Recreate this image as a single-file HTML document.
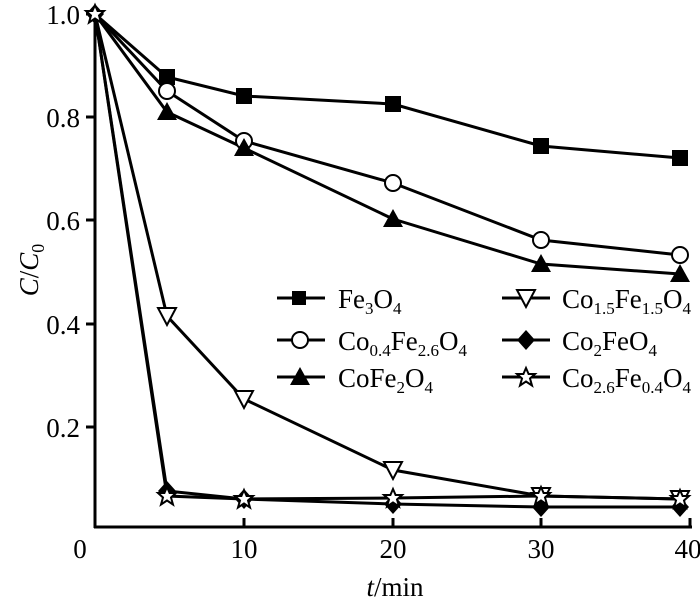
<!DOCTYPE html>
<html><head><meta charset="utf-8"><style>
html,body{margin:0;padding:0;background:#fff;}
svg{display:block;font-family:"Liberation Serif",serif;}
</style></head><body>
<svg width="700" height="601" viewBox="0 0 700 601" xmlns="http://www.w3.org/2000/svg">
<defs>
<g id="sq"><rect x="-8" y="-8" width="16" height="16" fill="#000"/></g>
<g id="ci"><circle r="8" fill="#fff" stroke="#000" stroke-width="2"/></g>
<g id="tr"><polygon points="0,-10 10,8 -10,8" fill="#000"/></g>
<g id="dt"><polygon points="-9,-8 9,-8 0,9" fill="#fff" stroke="#000" stroke-width="2"/></g>
<g id="di"><polygon points="0,-10 9,0 0,10 -9,0" fill="#000"/></g>
<g id="st"><polygon points="0,-9 2.6,-3 9,-3 4,1.5 6,8.5 0,4.5 -6,8.5 -4,1.5 -9,-3 -2.6,-3" fill="#fff" stroke="#000" stroke-width="2"/></g>
</defs>
<g stroke="#000" stroke-width="3" fill="none">
<line x1="95" y1="8" x2="95" y2="528"/>
<line x1="94" y1="527" x2="692" y2="527"/>
<line x1="86" y1="14" x2="95" y2="14"/>
<line x1="86" y1="117" x2="95" y2="117"/>
<line x1="86" y1="220" x2="95" y2="220"/>
<line x1="86" y1="324" x2="95" y2="324"/>
<line x1="86" y1="427" x2="95" y2="427"/>
<line x1="244" y1="518" x2="244" y2="527"/>
<line x1="393" y1="518" x2="393" y2="527"/>
<line x1="541" y1="518" x2="541" y2="527"/>
<line x1="690" y1="518" x2="690" y2="527"/>
</g>
<g font-size="27" text-anchor="end">
<text x="80" y="24">1.0</text><text x="80" y="127">0.8</text><text x="80" y="230">0.6</text><text x="80" y="334">0.4</text><text x="80" y="437">0.2</text>
</g>
<g font-size="27" text-anchor="middle">
<text x="80" y="558">0</text><text x="244" y="558">10</text><text x="393" y="558">20</text><text x="541" y="558">30</text><text x="688" y="558">40</text>
<text x="395" y="596"><tspan font-style="italic">t</tspan>/min</text>
</g>
<text font-size="27" transform="translate(38,270) rotate(-90)" text-anchor="middle"><tspan font-style="italic">C</tspan>/<tspan font-style="italic">C</tspan><tspan font-size="18" dy="6">0</tspan></text>
<g stroke="#000" stroke-width="3" fill="none">
<polyline points="95,14 167,77 244,96 393,104 541,146 680,158"/>
<polyline points="95,14 167,91 244,141 393,183 541,240 680,255"/>
<polyline points="95,14 167,112 244,148 393,219 541,264 680,274"/>
<polyline points="95,14 167,316 244,399 393,470 541,496 680,499"/>
<polyline points="95,14 167,491 244,499 393,504 541,507 680,507"/>
<polyline points="95,14 167,496 244,499 393,498 541,496 680,499"/>
</g>
<g>
<use href="#sq" x="167" y="77"/><use href="#sq" x="244" y="96"/><use href="#sq" x="393" y="104"/><use href="#sq" x="541" y="146"/><use href="#sq" x="680" y="158"/>
<use href="#ci" x="167" y="91"/><use href="#ci" x="244" y="141"/><use href="#ci" x="393" y="183"/><use href="#ci" x="541" y="240"/><use href="#ci" x="680" y="255"/>
<use href="#tr" x="167" y="112"/><use href="#tr" x="244" y="148"/><use href="#tr" x="393" y="219"/><use href="#tr" x="541" y="264"/><use href="#tr" x="680" y="274"/>
<use href="#dt" x="167" y="316"/><use href="#dt" x="244" y="399"/><use href="#dt" x="393" y="470"/><use href="#dt" x="541" y="496"/><use href="#dt" x="680" y="499"/>
<use href="#di" x="167" y="491"/><use href="#di" x="244" y="499"/><use href="#di" x="393" y="504"/><use href="#di" x="541" y="507"/><use href="#di" x="680" y="507"/>
<use href="#st" x="167" y="496"/><use href="#st" x="244" y="499"/><use href="#st" x="393" y="498"/><use href="#st" x="541" y="496"/><use href="#st" x="680" y="499"/>
<use href="#di" x="95" y="14"/><use href="#st" x="95" y="14"/>
</g>
<g stroke="#000" stroke-width="3">
<line x1="277" y1="298" x2="325" y2="298"/><line x1="277" y1="340" x2="325" y2="340"/><line x1="277" y1="377" x2="325" y2="377"/>
<line x1="502" y1="298" x2="550" y2="298"/><line x1="502" y1="340" x2="550" y2="340"/><line x1="502" y1="377" x2="550" y2="377"/>
</g>
<rect x="292" y="291" width="14" height="14" fill="#000"/>
<use href="#ci" x="300" y="340"/>
<use href="#tr" x="300" y="377"/>
<use href="#dt" x="526" y="298"/>
<use href="#di" x="526" y="340"/>
<use href="#st" x="526" y="377"/>
<g font-size="27">
<text x="338" y="308">Fe<tspan font-size="17" dy="6">3</tspan><tspan dy="-6">O</tspan><tspan font-size="17" dy="6">4</tspan></text>
<text x="338" y="350">Co<tspan font-size="17" dy="6">0.4</tspan><tspan dy="-6">Fe</tspan><tspan font-size="17" dy="6">2.6</tspan><tspan dy="-6">O</tspan><tspan font-size="17" dy="6">4</tspan></text>
<text x="338" y="387">CoFe<tspan font-size="17" dy="6">2</tspan><tspan dy="-6">O</tspan><tspan font-size="17" dy="6">4</tspan></text>
<text x="562" y="308">Co<tspan font-size="17" dy="6">1.5</tspan><tspan dy="-6">Fe</tspan><tspan font-size="17" dy="6">1.5</tspan><tspan dy="-6">O</tspan><tspan font-size="17" dy="6">4</tspan></text>
<text x="562" y="350">Co<tspan font-size="17" dy="6">2</tspan><tspan dy="-6">FeO</tspan><tspan font-size="17" dy="6">4</tspan></text>
<text x="562" y="387">Co<tspan font-size="17" dy="6">2.6</tspan><tspan dy="-6">Fe</tspan><tspan font-size="17" dy="6">0.4</tspan><tspan dy="-6">O</tspan><tspan font-size="17" dy="6">4</tspan></text>
</g>
</svg>
</body></html>
